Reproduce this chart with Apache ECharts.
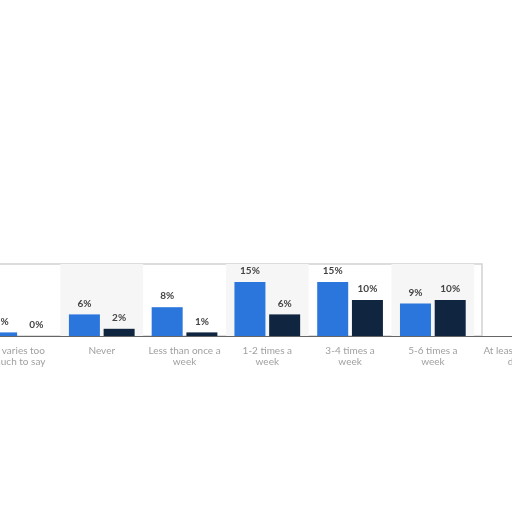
<!DOCTYPE html>
<html>
<head>
<meta charset="utf-8">
<script src="https://cdn.jsdelivr.net/npm/echarts@6/dist/echarts.min.js"></script>
<style>html,body{margin:0;padding:0;background:#fff;}#c{width:512px;height:512px;}</style>
</head>
<body>
<div id="c"></div>
<script>
const categories = ["It varies too\nmuch to say", "Never", "Less than once a\nweek", "1-2 times a\nweek", "3-4 times a\nweek", "5-6 times a\nweek", "At least once a\nday"];
const seriesA = [1, 6, 8, 15, 15, 9, null];
const seriesB = [0, 2, 1, 6, 10, 10, null];

const chart = echarts.init(document.getElementById('c'));
const lbl = {
  show: true, position: 'top', distance: 6,
  formatter: p => p.value + '%',
  color: '#444', fontSize: 10, fontWeight: 'bold', fontFamily: 'Lato'
};
chart.setOption({
  animation: false,
  grid: { left: -22.4, right: -45, top: 264, bottom: 176, outerBoundsMode: 'none', containLabel: false },
  graphic: [{
    type: 'rect', z: 0, silent: true,
    shape: { x: -2, y: 264, width: 484, height: 72 },
    style: { fill: 'none', stroke: '#d2d2d2', lineWidth: 1.5 }
  }],
  xAxis: {
    type: 'category', data: categories,
    axisTick: { show: false },
    axisLine: { lineStyle: { color: '#666', width: 1 } },
    axisLabel: { color: '#a0a0a0', fontSize: 10, lineHeight: 11, margin: 9, fontFamily: 'Lato', interval: 0 },
    splitArea: { show: true, areaStyle: { color: ['rgba(255,255,255,0)', '#f6f6f6'] } }
  },
  yAxis: { type: 'value', min: 0, max: 20, show: false, splitLine: { show: false } },
  series: [
    { name: 'A', type: 'bar', data: seriesA, barWidth: 31, barGap: '12%', itemStyle: { color: '#2a76dc' }, label: lbl },
    { name: 'B', type: 'bar', data: seriesB, barWidth: 31, itemStyle: { color: '#10253f' }, label: lbl }
  ]
});
</script>
</body>
</html>
